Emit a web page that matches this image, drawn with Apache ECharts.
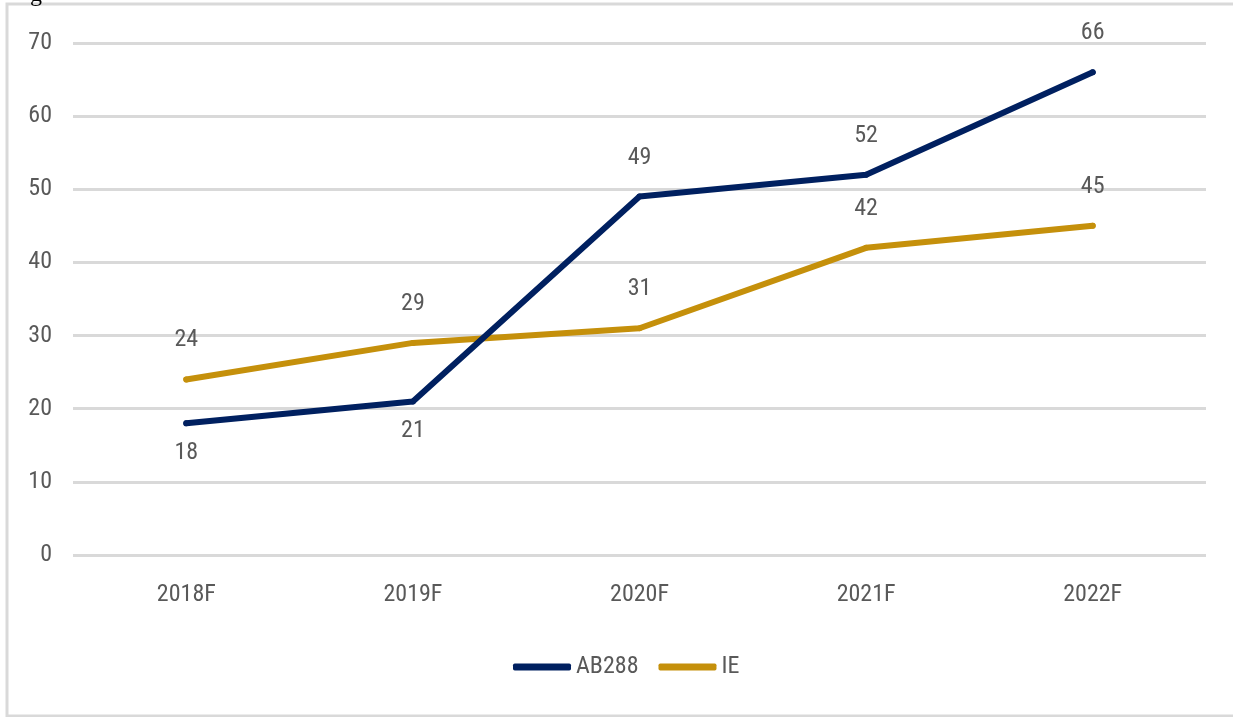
<!DOCTYPE html>
<html>
<head>
<meta charset="utf-8">
<script src="https://cdn.jsdelivr.net/npm/echarts@6/dist/echarts.min.js"></script>
<style>
  html, body { margin: 0; padding: 0; background: #fff; }
  #chart { width: 1233px; height: 717px; }
</style>
</head>
<body>
<div id="chart"></div>
<script>
// Forecast years on the category axis
const categories = ['2018F', '2019F', '2020F', '2021F', '2022F'];
// Series values
const ab288 = [18, 21, 49, 52, 66];
const ie = [24, 29, 31, 42, 45];
// Label placement for AB288 points (below for the first two)
const ab288LabelPos = ['bottom', 'bottom', 'top', 'top', 'top'];

const FONT = '"Roboto Condensed", "Liberation Sans", sans-serif';
const TEXT = '#595959';
const NAVY = '#002060';
const GOLD = '#C5900B';

const chart = echarts.init(document.getElementById('chart'), null, { renderer: 'canvas' });

chart.setOption({
  animation: false,
  backgroundColor: '#fff',
  textStyle: { fontFamily: FONT },
  grid: { left: 73, right: 27, top: 43, bottom: 162, containLabel: false },
  xAxis: {
    type: 'category',
    data: categories,
    boundaryGap: true,
    axisLine: { show: false },
    axisTick: { show: false },
    axisLabel: { color: TEXT, fontSize: 24, fontFamily: FONT, margin: 28 }
  },
  yAxis: {
    type: 'value',
    min: 0, max: 70, interval: 10,
    axisLine: { show: false },
    axisTick: { show: false },
    splitLine: { lineStyle: { color: '#d9d9d9', width: 3 } },
    axisLabel: { color: TEXT, fontSize: 24, fontFamily: FONT, margin: 21 }
  },
  legend: {
    bottom: 33,
    left: 508,
    itemWidth: 58,
    itemHeight: 7,
    itemGap: 20,
    icon: 'roundRect',
    textStyle: { color: TEXT, fontSize: 24, fontFamily: FONT },
    data: [
      { name: 'AB288', itemStyle: { color: NAVY } },
      { name: 'IE', itemStyle: { color: GOLD } }
    ]
  },
  series: [
    {
      name: 'AB288',
      type: 'line',
      data: ab288.map((v, i) => ({
        value: v,
        label: { position: ab288LabelPos[i], distance: ab288LabelPos[i] === 'top' ? 24 : 15 }
      })),
      symbol: 'circle',
      symbolSize: 6,
      showSymbol: true,
      color: NAVY,
      itemStyle: { color: NAVY },
      lineStyle: { width: 6, color: NAVY, cap: 'round', join: 'round' },
      label: { show: true, color: TEXT, fontSize: 24, fontFamily: FONT },
      z: 3
    },
    {
      name: 'IE',
      type: 'line',
      data: ie,
      symbol: 'circle',
      symbolSize: 6,
      showSymbol: true,
      color: GOLD,
      itemStyle: { color: GOLD },
      lineStyle: { width: 6, color: GOLD, cap: 'round', join: 'round' },
      label: { show: true, position: 'top', distance: 24, color: TEXT, fontSize: 24, fontFamily: FONT },
      z: 2
    }
  ],
  graphic: [
    // frame around the figure
    { type: 'rect', shape: { x: 7, y: 4, width: 1240, height: 712 },
      style: { fill: 'none', stroke: '#d9d9d9', lineWidth: 3 }, silent: true },
    // tail of the caption line above the frame
    { type: 'text', left: 30, top: -17,
      style: { text: 'g', font: '24px "Liberation Serif", serif', fill: '#000' } }
  ]
});
</script>
</body>
</html>
